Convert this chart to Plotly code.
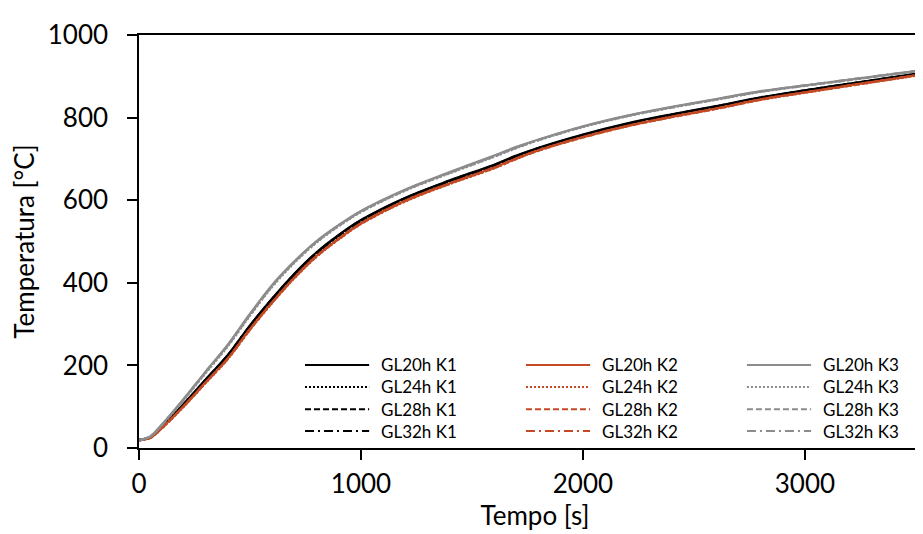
import plotly.graph_objects as go

# time axis [s]
tempo = [0, 50, 100, 200, 300, 400, 500, 600, 700, 800, 900, 1000, 1200, 1400,
         1600, 1700, 1800, 2000, 2200, 2400, 2600, 2800, 3000, 3200, 3400, 3600]

# temperatures [°C]
gl20_k1 = [19, 26, 50, 106, 166, 225, 297, 362, 422, 474, 516, 552, 606, 648, 686, 708, 727, 759, 786, 808, 828, 849, 866, 882, 898, 914]
gl24_k1 = [19, 25, 48, 103, 163, 222, 293, 358, 418, 470, 513, 549, 604, 646, 684, 706, 726, 757, 784, 807, 827, 848, 865, 881, 897, 913]
gl28_k1 = [19, 25, 49, 104, 164, 224, 295, 360, 420, 472, 515, 551, 605, 647, 685, 707, 726, 758, 785, 807, 827, 848, 866, 882, 898, 914]
gl32_k1 = [20, 26, 50, 105, 165, 224, 296, 361, 421, 473, 515, 550, 604, 645, 684, 706, 725, 757, 784, 806, 826, 847, 865, 881, 897, 913]

gl20_k2 = [19, 25, 47, 101, 159, 217, 288, 353, 413, 465, 507, 544, 599, 641, 679, 701, 721, 753, 780, 802, 822, 844, 861, 878, 894, 911]
gl24_k2 = [19, 24, 46, 99, 157, 215, 286, 351, 411, 463, 505, 542, 597, 639, 677, 700, 720, 752, 779, 801, 821, 843, 860, 877, 893, 910]
gl28_k2 = [19, 24, 46, 100, 158, 216, 287, 352, 412, 464, 506, 543, 598, 640, 678, 700, 720, 752, 779, 801, 821, 843, 861, 877, 894, 911]
gl32_k2 = [19, 25, 47, 100, 158, 216, 287, 352, 412, 464, 506, 543, 598, 640, 678, 701, 721, 753, 780, 802, 822, 844, 861, 878, 894, 911]

gl20_k3 = [19, 28, 55, 118, 185, 250, 325, 395, 452, 501, 540, 574, 626, 668, 708, 729, 747, 779, 805, 826, 845, 864, 878, 892, 906, 920]
gl24_k3 = [19, 27, 53, 115, 181, 246, 320, 390, 448, 497, 537, 571, 623, 665, 705, 726, 745, 777, 803, 824, 843, 862, 877, 891, 905, 919]
gl28_k3 = [19, 27, 54, 116, 183, 248, 322, 392, 450, 499, 538, 572, 624, 666, 706, 727, 746, 778, 804, 825, 844, 863, 877, 891, 905, 919]
gl32_k3 = [19, 28, 54, 117, 184, 249, 323, 393, 451, 500, 539, 573, 625, 667, 707, 728, 746, 778, 804, 825, 844, 863, 878, 892, 906, 920]

glues = ["GL20h", "GL24h", "GL28h", "GL32h"]
sensors = ["K1", "K2", "K3"]
values = {
    "K1": [gl20_k1, gl24_k1, gl28_k1, gl32_k1],
    "K2": [gl20_k2, gl24_k2, gl28_k2, gl32_k2],
    "K3": [gl20_k3, gl24_k3, gl28_k3, gl32_k3],
}

colors = {"K1": "#000000", "K2": "#C34A24", "K3": "#8C8C8C"}
dashes = ["solid", "2px,2px", "6px,3px", "9px,4px,2px,4px"]
FONT = "Lato"

fig = go.Figure()
for s in sensors:
    for g, (glue, ys) in enumerate(zip(glues, values[s])):
        fig.add_trace(go.Scatter(
            x=tempo, y=ys, mode="lines", name=f"{glue} {s}",
            line=dict(color=colors[s], width=2.25, dash=dashes[g], shape="spline"),
            showlegend=False,
        ))

# legend drawn by hand: 3 columns (K1..K3) x 4 rows (glue types)
row_y = [0.201, 0.148, 0.094, 0.041]
for c, s in enumerate(sensors):
    x0 = 0.2096 + c * 0.279
    for g, glue in enumerate(glues):
        fig.add_shape(type="line", xref="paper", yref="paper",
                      x0=x0, x1=x0 + 0.081, y0=row_y[g], y1=row_y[g],
                      line=dict(color=colors[s], width=2, dash=dashes[g]))
        fig.add_annotation(x=x0 + 0.094, y=row_y[g], xref="paper", yref="paper",
                           text=f"{glue} {s}", showarrow=False,
                           xanchor="left", yanchor="middle",
                           font=dict(family=FONT, size=17, color="black"))

axis_common = dict(
    showgrid=False, zeroline=False, showline=True, linecolor="black", linewidth=1.5,
    ticks="outside", ticklen=10, tickwidth=1.5, tickcolor="black", automargin=False,
    tickfont=dict(family=FONT, size=26, color="black"),
)
fig.update_xaxes(range=[0, 3568], dtick=1000, mirror=True, ticklabelstandoff=2,
                 title=dict(text="Tempo [s]", font=dict(family=FONT, size=26, color="black"), standoff=2),
                 **axis_common)
fig.update_yaxes(range=[0, 1000], dtick=200, ticklabelstandoff=14,
                 title=dict(text="Temperatura [°C]", font=dict(family=FONT, size=26, color="black"), standoff=6),
                 **axis_common)
fig.update_layout(
    width=923, height=534,
    margin=dict(l=131, r=0, t=27, b=94),
    plot_bgcolor="white", paper_bgcolor="white",
    font=dict(family=FONT),
)
fig.write_html("out.html")
